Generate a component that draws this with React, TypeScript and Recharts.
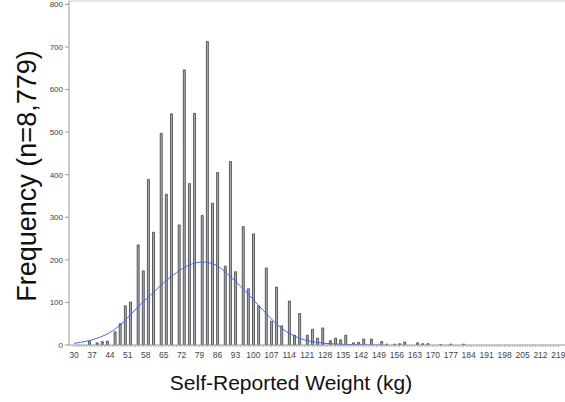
import React from 'react'
import {
  ComposedChart,
  Bar,
  Line,
  XAxis,
  YAxis,
  ReferenceLine,
} from 'recharts'

// weight categories (kg) that have a bar, and their counts
const barKg = [
  36, 39, 41, 43, 46, 48, 50, 52, 55, 57, 59, 61, 64, 66, 68, 71, 73, 75, 77, 80,
  82, 84, 86, 89, 91, 93, 96, 98, 100, 102, 105, 107, 109, 111, 114, 116, 118, 121, 123, 125,
  127, 130, 132, 134, 136, 139, 141, 143, 146, 150, 152, 155, 157, 159, 164, 166, 168, 173, 177, 182,
]
const barCounts = [
  8, 5, 8, 9, 31, 50, 92, 101, 235, 174, 389, 265, 497, 354, 543, 282, 646, 379, 544, 304,
  713, 333, 405, 185, 431, 172, 278, 132, 261, 92, 181, 56, 136, 45, 103, 23, 74, 23, 37, 16,
  40, 10, 16, 12, 23, 5, 6, 14, 14, 8, 2, 2, 3, 7, 5, 3, 3, 1, 2, 2,
]

// normal curve
const curveKg = [30, 35, 40, 45, 50, 55, 60, 65, 70, 75, 80, 85, 90, 95, 100, 105, 110, 115, 120, 125, 130, 135, 140, 145, 150]
const curveVals = [4, 9, 18, 33, 58, 90, 118, 146, 170, 188, 195, 189, 166, 138, 106, 74, 44, 24, 12, 6, 3, 1.5, 0.7, 0.3, 0]

const yTicks = [0, 100, 200, 300, 400, 500, 600, 700, 800]
const minKg = 30
const maxKg = 219

const data: any[] = []
for (let kg = minKg; kg <= maxKg; kg++) {
  const bi = barKg.indexOf(kg)
  const ci = curveKg.indexOf(kg)
  data.push({
    kg,
    count: bi >= 0 ? barCounts[bi] : null,
    curve: ci >= 0 ? curveVals[ci] : null,
  })
}

const font = '"Liberation Sans", Arial, sans-serif'

const XTick = ({ x, y, payload }: any) => {
  if ((payload.value - minKg) % 7 !== 0) return <g />
  return (
    <text x={x} y={y} dy={9} textAnchor="middle" fontSize={8.5} fill="#444" fontFamily={font}>
      {payload.value}
    </text>
  )
}

export default function App() {
  return (
    <div style={{ position: 'absolute', left: 0, top: 0, width: 565, height: 402, overflow: 'hidden', background: '#fff' }}>
      <ComposedChart
        width={575}
        height={402}
        data={data}
        margin={{ top: 1, right: 5, left: 0, bottom: 0 }}
        barCategoryGap="15%"
      >
        <XAxis
          dataKey="kg"
          interval={0}
          tick={<XTick />}
          tickSize={2}
          tickLine={{ stroke: '#aaa' }}
          axisLine={{ stroke: '#999' }}
          padding={{ left: 3.7, right: 10.3 }}
          height={57}
        />
        <YAxis
          domain={[0, 808]}
          ticks={yTicks}
          width={69}
          tickSize={4}
          tick={{ fontSize: 8, fill: '#444', fontFamily: font }}
          tickLine={{ stroke: '#999' }}
          axisLine={{ stroke: '#999' }}
          allowDataOverflow
        />
        <ReferenceLine y={808} stroke="#ccc" />
        <Bar dataKey="count" fill="#a9b0ba" stroke="#3c3c3c" strokeWidth={0.8} isAnimationActive={false} />
        <Line
          dataKey="curve"
          type="monotone"
          stroke="#4466e6"
          strokeWidth={1}
          dot={false}
          connectNulls
          isAnimationActive={false}
        />
      </ComposedChart>
      <div
        style={{
          position: 'absolute',
          left: 291,
          top: 383,
          transform: 'translate(-50%, -50%)',
          fontFamily: font,
          fontSize: 21,
          whiteSpace: 'nowrap',
          color: '#111',
        }}
      >
        Self-Reported Weight (kg)
      </div>
      <div
        style={{
          position: 'absolute',
          left: 27,
          top: 176,
          transform: 'translate(-50%, -50%) rotate(-90deg)',
          fontFamily: font,
          fontSize: 27,
          whiteSpace: 'nowrap',
          color: '#111',
        }}
      >
        Frequency (n=8,779)
      </div>
    </div>
  )
}
